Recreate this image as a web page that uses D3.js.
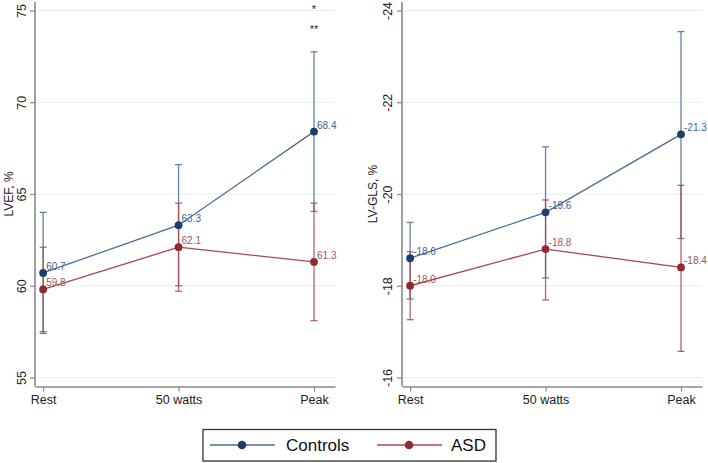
<!DOCTYPE html>
<html><head><meta charset="utf-8">
<script src="https://cdn.jsdelivr.net/npm/d3@7"></script>
<style>body{margin:0;background:#fff}svg{display:block;font-family:"Liberation Sans",Arial,sans-serif}</style>
</head><body>
<svg id="c" width="708" height="463"></svg>
<script>
const categories = ["Rest", "50 watts", "Peak"];
const seriesNames = ["Controls", "ASD"];

const lvefTicks = [55, 60, 65, 70, 75];
const lvefControls = [60.7, 63.3, 68.4];
const lvefControlsLo = [57.4, 60.0, 64.05];
const lvefControlsHi = [64.0, 66.6, 72.75];
const lvefAsd = [59.8, 62.1, 61.3];
const lvefAsdLo = [57.5, 59.7, 58.1];
const lvefAsdHi = [62.1, 64.5, 64.5];

const glsTicks = [-24, -22, -20, -18, -16];
const glsControls = [-18.6, -19.6, -21.3];
const glsControlsLo = [-17.71, -18.17, -19.03];
const glsControlsHi = [-19.38, -21.03, -23.54];
const glsAsd = [-18.0, -18.8, -18.4];
const glsAsdLo = [-17.26, -17.69, -16.57];
const glsAsdHi = [-18.74, -19.87, -20.19];

const peakMarks = ["*", "**"];

const C = {
  blueDot: "#1a3f6b", blueLine: "#4a6d94", blueTxt: "#3f6390",
  redDot: "#8e2a30", redLine: "#a9484e", redTxt: "#a2545a",
  grid: "#e6eef1", axis: "#8a8a8a"
};

const hy = f => d => f(d).replace("\u2212", "-");
const svg = d3.select("#c");

function panel(opt) {
  const g = svg.append("g");
  const x = d3.scaleLinear().domain([-0.06, 2.155]).range(opt.xr);
  const y = d3.scaleLinear().domain(opt.yd).range([10.5, 377.5]);
  // grid
  g.selectAll("line.grid").data(opt.ticks).enter().append("line")
    .attr("x1", opt.xr[0]).attr("x2", opt.xr[1])
    .attr("y1", d => y(d)).attr("y2", d => y(d))
    .attr("stroke", C.grid).attr("stroke-width", 1.2);
  // y axis
  const ya = g.append("g").attr("transform", `translate(${opt.xr[0]},0)`)
    .call(d3.axisLeft(y).tickValues(opt.ticks).tickSize(5).tickSizeOuter(0).tickFormat(hy(d3.format("d"))));
  ya.select(".domain").attr("stroke", C.axis).attr("stroke-width", 1.6)
    .attr("d", `M0,2V386.5`);
  ya.selectAll(".tick line").attr("stroke", C.axis).attr("stroke-width", 1.2);
  ya.selectAll(".tick text").attr("fill", "#222").attr("font-size", 12.5)
    .attr("x", null).attr("dy", null)
    .attr("text-anchor", "middle")
    .attr("transform", `translate(${-opt.lab},0) rotate(-90)`)
    .attr("y", 0);
  // x axis
  const xa = g.append("g").attr("transform", "translate(0,386.5)")
    .call(d3.axisBottom(x).tickValues([0, 1, 2]).tickSize(5).tickSizeOuter(0).tickFormat(i => categories[i]));
  xa.select(".domain").attr("stroke", C.axis).attr("stroke-width", 1.6);
  xa.selectAll(".tick line").attr("stroke", C.axis).attr("stroke-width", 1.2);
  xa.selectAll(".tick text").attr("fill", "#222").attr("font-size", 12.5).attr("dy", "0.9em").attr("y", 6);
  // axis title
  g.append("text").attr("transform", `translate(${opt.tx},${y((opt.yd[0] + opt.yd[1]) / 2)}) rotate(-90)`)
    .attr("text-anchor", "middle").attr("font-size", 12).attr("fill", "#222").text(opt.title);

  const ser = [
    {v: opt.c, lo: opt.cl, hi: opt.ch, dot: C.blueDot, line: C.blueLine, txt: C.blueTxt},
    {v: opt.a, lo: opt.al, hi: opt.ah, dot: C.redDot, line: C.redLine, txt: C.redTxt}
  ];
  const line = d3.line().x((d, i) => x(i)).y(d => y(d));
  ser.forEach(s => {
    const eg = g.append("g").attr("stroke", s.line).attr("stroke-width", 1.3).attr("stroke-opacity", 0.85);
    s.v.forEach((v, i) => {
      eg.append("line").attr("x1", x(i)).attr("x2", x(i)).attr("y1", y(s.lo[i])).attr("y2", y(s.hi[i]));
      [s.lo[i], s.hi[i]].forEach(e => eg.append("line").attr("x1", x(i) - 3.5).attr("x2", x(i) + 3.5).attr("y1", y(e)).attr("y2", y(e)));
    });
  });
  ser.forEach(s => {
    g.append("path").datum(s.v).attr("d", line).attr("fill", "none").attr("stroke", s.line).attr("stroke-width", 1.3);
  });
  const f1 = hy(d3.format(".1f"));
  ser.forEach(s => {
    g.selectAll(null).data(s.v).enter().append("circle")
      .attr("cx", (d, i) => x(i)).attr("cy", d => y(d)).attr("r", 3.9).attr("fill", s.dot);
    g.selectAll(null).data(s.v).enter().append("text")
      .attr("x", (d, i) => x(i) + 3).attr("y", d => y(d) - 3)
      .attr("font-size", 10).attr("fill", s.txt).text(d => f1(d));
  });
  return {x, y, g};
}

const L = panel({xr: [35, 335], yd: [75, 55], ticks: lvefTicks, lab: 9, tx: 12.5, title: "LVEF, %",
  c: lvefControls, cl: lvefControlsLo, ch: lvefControlsHi, a: lvefAsd, al: lvefAsdLo, ah: lvefAsdHi});
const R = panel({xr: [402, 702], yd: [-24, -16], ticks: glsTicks, lab: 10, tx: 377, title: "LV-GLS, %",
  c: glsControls, cl: glsControlsLo, ch: glsControlsHi, a: glsAsd, al: glsAsdLo, ah: glsAsdHi});

// significance marks at peak
L.g.selectAll(null).data(peakMarks).enter().append("text")
  .attr("x", L.x(2)).attr("y", (d, i) => 13 + i * 20)
  .attr("text-anchor", "middle").attr("font-size", 11).attr("fill", "#1a2a45").text(d => d);

// legend
const lg = svg.append("g");
lg.append("rect").attr("x", 203).attr("y", 429.5).attr("width", 293).attr("height", 31.5)
  .attr("fill", "#fff").attr("stroke", "#333").attr("stroke-width", 1.3);
const items = [
  {name: seriesNames[0], x0: 210, dot: C.blueDot, line: C.blueLine, tx: 286},
  {name: seriesNames[1], x0: 377, dot: C.redDot, line: C.redLine, tx: 451}
];
items.forEach(it => {
  lg.append("line").attr("x1", it.x0).attr("x2", it.x0 + 65).attr("y1", 445).attr("y2", 445)
    .attr("stroke", it.line).attr("stroke-width", 1.6);
  lg.append("circle").attr("cx", it.x0 + 32).attr("cy", 445).attr("r", 4.3).attr("fill", it.dot);
  lg.append("text").attr("x", it.tx).attr("y", 451).attr("font-size", 17).attr("fill", "#111").text(it.name);
});
</script>
</body></html>
